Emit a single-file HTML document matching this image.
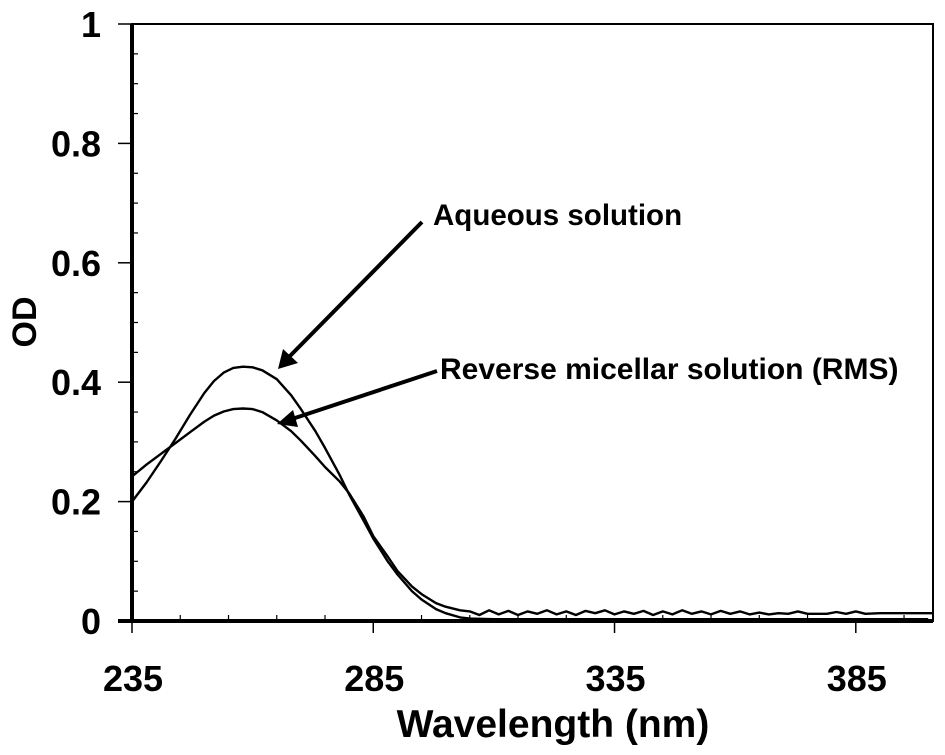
<!DOCTYPE html>
<html><head><meta charset="utf-8"><style>
body{margin:0;background:#fff}
svg{display:block}
text{font-family:"Liberation Sans",Arial,sans-serif;font-weight:bold;fill:#000}
</style></head><body>
<svg id="chart" width="945" height="755" viewBox="0 0 945 755" xmlns="http://www.w3.org/2000/svg">
<g id="axes"></g>
<g id="series"></g>
<text x="0" y="0" font-size="34" text-anchor="middle" transform="translate(36,322) rotate(-90)">OD</text>
<text x="553" y="737" font-size="39" text-anchor="middle">Wavelength (nm)</text>
<text x="433" y="225" font-size="29.5">Aqueous solution</text>
<text x="440" y="379" font-size="30">Reverse micellar solution (RMS)</text>
<g>
<line x1="422" y1="222" x2="288" y2="358" stroke="#000" stroke-width="4"/>
<polygon points="278,369 283,349 298,363" fill="#000"/>
</g>
<g>
<line x1="437" y1="371" x2="292" y2="419" stroke="#000" stroke-width="4"/>
<polygon points="277,424 293,410 298,427" fill="#000"/>
</g>
</svg>
<script>
const wavelengths = [235,238,241,244,247,250,252,254,256,258,260,262,265,268,270,273,275,278,280,283,285,288,290,293,295,298,300,303,305,310,320,330,340,350,360,370,380,390,400];
const aqueousOD   = [0.200,0.232,0.268,0.305,0.345,0.382,0.402,0.416,0.424,0.426,0.425,0.420,0.405,0.378,0.355,0.318,0.290,0.245,0.212,0.168,0.138,0.100,0.078,0.050,0.036,0.020,0.013,0.006,0.004,0.003,0.003,0.003,0.003,0.003,0.003,0.003,0.003,0.003,0.003];
const rmsOD       = [0.242,0.262,0.280,0.298,0.316,0.334,0.344,0.351,0.355,0.356,0.355,0.350,0.336,0.318,0.302,0.276,0.258,0.234,0.214,0.175,0.142,0.108,0.084,0.058,0.045,0.030,0.024,0.018,0.016,0.014,0.013,0.013,0.013,0.013,0.013,0.013,0.013,0.013,0.013];
const rmsTailWl   = [305,307,309,311,313,315,317,319,321,323,325,327,329,331,333,335,337,339,341,343,345,347,349,351,353,355,357,359,361,363,365,367,369,371,373,375,377,379,381,383,385,387];
const rmsTailOD   = [0.016,0.010,0.018,0.011,0.017,0.010,0.016,0.012,0.018,0.011,0.016,0.010,0.017,0.013,0.018,0.011,0.016,0.012,0.017,0.010,0.016,0.011,0.018,0.012,0.016,0.011,0.017,0.012,0.016,0.011,0.014,0.011,0.013,0.012,0.016,0.012,0.012,0.012,0.015,0.012,0.016,0.012];
const xTicks = [235,285,335,385];
const yTicks = [0,0.2,0.4,0.6,0.8,1];
const X0=132,X1=933,Y0=621,Y1=24, XMIN=235, XMAX=401;
const xs = v => X0 + (v-XMIN)/(XMAX-XMIN)*(X1-X0);
const ys = v => Y0 - v*(Y0-Y1);
const NS='http://www.w3.org/2000/svg';
function mk(tag, attrs, parent){const e=document.createElementNS(NS,tag);for(const k in attrs)e.setAttribute(k,attrs[k]);parent.appendChild(e);return e;}
const axes=document.getElementById('axes');
let el;
el=mk('rect',{x:X0,y:Y1,width:X1-X0,height:Y0-Y1,fill:'none',stroke:'#000','stroke-width':2},axes);


el=mk('line',{x1:X0,y1:Y1,x2:X0,y2:Y0,stroke:'#000','stroke-width':4},axes);


el=mk('line',{x1:X0-14,y1:Y0,x2:X1,y2:Y0,stroke:'#000','stroke-width':4},axes);


yTicks.forEach(v=>{
  el=mk('line',{x1:X0-14,y1:ys(v),x2:X0,y2:ys(v),stroke:'#000','stroke-width':1.5},axes);
  
  
  el=mk('text',{x:101,y:ys(v)+13,'font-size':36,'text-anchor':'end'},axes);
  el.textContent = v===0?'0':(v===1?'1':v.toFixed(1));
  
  
});
for(let v=0.05;v<1;v+=0.05){
  if(Math.abs(v*5-Math.round(v*5))<1e-6) continue;
  el=mk('line',{x1:X0,y1:ys(v),x2:X0+6,y2:ys(v),stroke:'#000','stroke-width':1.2},axes);
  
  
}
for(let v=245;v<=395;v+=10){
  if((v-235)%50===0) continue;
  el=mk('line',{x1:xs(v),y1:Y0-6,x2:xs(v),y2:Y0,stroke:'#000','stroke-width':1.2},axes);
  
  
}
xTicks.forEach(v=>{
  el=mk('line',{x1:xs(v),y1:Y0,x2:xs(v),y2:Y0+12,stroke:'#000','stroke-width':1.5},axes);
  
  
  el=mk('text',{x:xs(v)+1,y:691,'font-size':36,'text-anchor':'middle'},axes);
  el.textContent=v;
  
  
});
const series=document.getElementById('series');
function path(wl,od){return wl.map((w,i)=>(i?'L':'M')+xs(w).toFixed(1)+','+ys(od[i]).toFixed(1)).join(' ');}
el=mk('path',{d:path(wavelengths,aqueousOD),fill:'none',stroke:'#000','stroke-width':2.4,'stroke-linejoin':'round'},series);


const nHead=wavelengths.filter(w=>w<305).length;
const rw=wavelengths.slice(0,nHead).concat(rmsTailWl).concat([390,401]);
const ro=rmsOD.slice(0,nHead).concat(rmsTailOD).concat([0.013,0.013]);
el=mk('path',{d:path(rw,ro),fill:'none',stroke:'#000','stroke-width':2.4,'stroke-linejoin':'round'},series);


</script>
</body></html>
